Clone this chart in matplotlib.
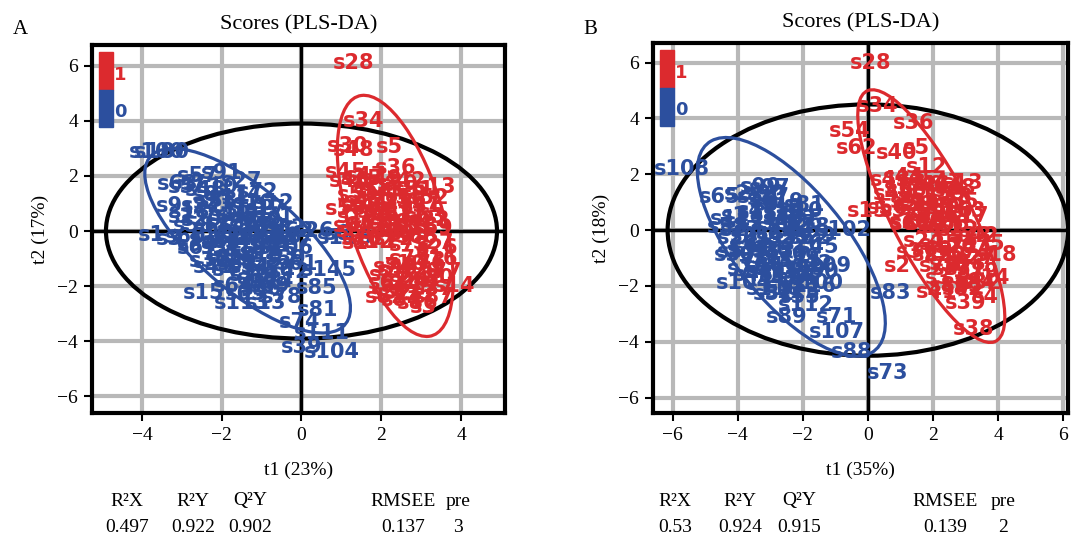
#!/usr/bin/env python3
"""
Two PLS-DA score plots (t1 vs t2) side by side, with sample labels,
group ellipses, the Hotelling T2 ellipse and the model summary underneath.
"""

import matplotlib

matplotlib.use("Agg")
import matplotlib.pyplot as plt
from matplotlib.patches import Ellipse, Rectangle


RED = "#dc2a2e"
BLUE = "#2c4f9e"
GRID = "#b8b8b8"
SERIF = ["Liberation Serif", "DejaVu Serif"]

# ---- panel A: scores, group 0 (blue) ----
A0_NAMES = ["s100", "s180", "s57", "s91", "s27", "s63", "s48", "s72", "s12", "s9",
            "s2", "s1", "s3", "s60", "s22", "s33", "s41", "s50", "s58", "s66",
            "s70", "s76", "s79", "s84", "s87", "s92", "s95", "s98", "s101", "s103",
            "s106", "s62", "s26", "s6", "s116", "s145", "s85", "s81", "s74", "s111",
            "s104", "s39", "s15", "s113", "s13", "s4", "s19", "s24", "s30", "s36",
            "s42", "s53", "s67", "s78", "s93",
            "s5", "s7", "s8", "s10", "s11", "s14", "s16", "s17", "s18", "s20",
            "s21", "s23", "s25", "s28", "s29", "s31", "s32", "s34", "s35", "s37",
            "s38", "s40", "s43", "s44", "s46", "s47", "s49", "s51", "s52", "s54",
            "s55", "s56", "s59", "s61", "s64", "s65", "s68", "s69"]
A0_T1 = [-3.62, -3.5, -2.6, -2.0, -1.5, -3.1, -2.4, -1.1, -0.7, -3.3,
         -3.0, -3.75, -3.3, -2.9, -2.5, -2.1, -1.8, -1.4, -2.7, -2.2,
         -1.6, -1.2, -0.9, -2.0, -1.5, -1.0, -0.6, -1.7, -1.2, -0.8,
         -0.4, -0.2, 0.3, 0.9, 1.1, 0.7, 0.37, 0.4, -0.05, 0.5,
         0.75, 0.0, -2.45, -1.5, -0.9, -1.9, -1.3, -0.7, -2.3, -1.0,
         -0.3, -1.6, -2.6, -0.5, -1.1,
         -3.0, -2.7, -2.4, -2.1, -1.8, -1.5, -1.2, -0.9, -2.8, -2.5,
         -2.2, -1.9, -1.6, -1.3, -1.0, -0.7, -0.4, -2.6, -2.3, -2.0,
         -1.7, -1.4, -1.1, -0.8, -0.5, -0.2, -2.2, -1.9, -1.6, -1.3,
         -1.0, -0.7, -0.4, -0.1, -1.7, -1.4, -1.1, -0.8]
A0_T2 = [2.85, 2.85, 2.0, 2.1, 1.8, 1.7, 1.5, 1.4, 1.0, 0.9,
         0.5, -0.15, -0.3, -0.2, 0.9, 1.1, 0.6, 0.8, 0.2, 0.1,
         0.3, 0.5, 0.2, -0.4, -0.2, -0.1, -0.3, -0.9, -0.7, -0.9,
         -0.6, 0.0, 0.0, -0.1, -0.25, -1.4, -2.07, -2.85, -3.3, -3.7,
         -4.4, -4.2, -2.25, -2.6, -2.6, -1.4, -1.6, -1.8, -1.1, -2.1,
         -1.5, -1.2, -0.6, -2.4, -1.9,
         1.6, 1.7, 1.3, 1.6, 1.2, 1.3, 1.0, 0.8, 0.7, 0.4,
         1.0, 0.3, 0.6, 0.2, 0.4, 0.5, 0.1, -0.5, -0.3, -0.6,
         -0.2, -0.4, -0.1, -0.5, -0.2, -0.3, -1.3, -1.0, -0.9, -1.3,
         -1.1, -1.4, -1.0, -1.2, -2.0, -2.3, -1.7, -2.0]

# ---- panel A: scores, group 1 (red) ----
A1_NAMES = ["s28", "s34", "s30", "s48", "s5", "s45", "s36", "s13", "s42", "s7",
            "s21", "s9", "s17", "s25", "s31", "s2", "s11", "s19", "s22", "s40",
            "s8", "s33", "s23", "s1", "s27", "s26", "s16", "s10", "s20", "s6",
            "s24", "s29", "s14", "s32", "s35", "s37", "s3", "s12", "s15", "s18",
            "s39", "s41", "s43", "s44",
            "s46", "s47", "s49", "s50", "s51", "s52", "s53", "s54", "s55", "s56",
            "s57", "s58", "s59", "s60", "s61", "s62", "s63", "s64", "s65", "s66",
            "s67", "s68", "s69", "s70", "s71", "s72", "s73", "s74", "s75", "s76",
            "s77", "s78", "s79", "s80", "s82", "s84", "s86", "s87"]
A1_T1 = [1.3, 1.55, 1.15, 1.3, 2.2, 1.1, 2.35, 3.35, 2.6, 1.6,
         2.0, 2.8, 1.6, 2.3, 3.0, 1.9, 2.6, 1.4, 3.2, 2.2,
         1.2, 2.0, 2.7, 1.35, 3.3, 3.4, 3.4, 2.6, 2.2, 2.0,
         2.7, 3.0, 3.85, 2.25, 2.8, 3.3, 3.05, 1.8, 1.5, 2.9,
         2.4, 1.7, 3.1, 2.5,
         1.2, 1.6, 2.0, 2.4, 2.8, 3.2, 1.4, 1.8, 2.2, 2.6,
         3.0, 1.1, 1.5, 1.9, 2.3, 2.7, 3.1, 1.3, 1.7, 2.1,
         2.5, 2.9, 3.3, 1.5, 1.9, 2.3, 2.7, 2.3, 2.7, 3.1,
         3.5, 2.5, 2.9, 3.3, 2.1, 2.5, 2.9, 3.3]
A1_T2 = [6.1, 4.0, 3.1, 2.95, 3.05, 2.15, 2.3, 1.6, 1.8, 1.6,
         1.5, 1.3, 1.1, 1.0, 0.9, 0.7, 0.6, 0.5, 0.4, 0.3,
         0.0, -0.05, -0.1, -0.45, -0.45, -0.6, -1.0, -1.2, -1.6, -1.9,
         -1.8, -1.5, -2.0, -2.25, -2.3, -2.1, -2.75, -0.4, 1.9, 0.2,
         -1.4, 0.9, -1.1, -2.0,
         1.8, 2.0, 1.9, 1.7, 1.5, 1.2, 1.3, 1.4, 1.2, 1.1,
         1.0, 0.8, 0.9, 0.7, 0.6, 0.4, 0.5, 0.2, 0.3, 0.1,
         0.0, -0.2, 0.1, -0.3, -0.4, -0.3, -0.5, -1.3, -1.0, -1.2,
         -1.5, -1.8, -2.0, -1.7, -2.4, -2.5, -2.6, -2.4]

# ---- panel B: scores, group 0 (blue) ----
B0_NAMES = ["s108", "s65", "s99", "s97", "s90", "s81", "s102", "s109", "s112", "s89",
            "s71", "s107", "s88", "s83", "s73", "s1", "s4", "s9", "s15", "s22",
            "s27", "s33", "s41", "s46", "s52", "s57", "s60", "s66", "s70", "s75",
            "s78", "s84", "s91", "s94", "s100", "s104", "s110", "s113", "s116", "s3",
            "s19", "s45", "s58", "s86", "s95",
            "s2", "s5", "s6", "s7", "s8", "s10", "s11", "s12", "s13", "s14",
            "s16", "s17", "s18", "s20", "s21", "s23", "s24", "s25", "s26", "s29",
            "s30", "s31", "s32", "s35", "s37", "s39", "s42", "s43", "s44", "s47",
            "s48", "s49", "s50", "s51", "s53", "s55"]
B0_T1 = [-5.7, -4.55, -3.3, -3.0, -3.15, -1.95, -0.75, -1.35, -1.9, -2.5,
         -0.95, -0.95, -0.5, 0.7, 0.6, -4.1, -3.6, -3.1, -2.6, -2.2,
         -3.9, -3.4, -2.8, -2.3, -1.8, -4.0, -3.5, -3.0, -2.5, -2.0,
         -3.7, -3.2, -2.7, -2.2, -1.6, -3.8, -2.9, -2.3, -1.8, -3.3,
         -2.6, -1.5, -4.3, -2.0, -2.8,
         -4.0, -3.6, -3.2, -2.8, -2.4, -2.0, -4.2, -3.8, -3.4, -3.0,
         -2.6, -2.2, -1.8, -4.0, -3.6, -3.2, -2.8, -2.4, -2.0, -1.6,
         -4.1, -3.7, -3.3, -2.9, -2.5, -2.1, -1.7, -3.5, -3.1, -2.7,
         -2.3, -1.9, -1.5, -2.9, -2.5, -2.1]
B0_T2 = [2.2, 1.2, 1.55, 1.5, 1.3, 0.9, 0.0, -1.3, -2.7, -3.1,
         -3.1, -3.65, -4.35, -2.25, -5.1, 0.5, 0.7, 0.9, 0.6, 0.4,
         0.0, 0.2, 0.1, -0.1, -0.3, -0.8, -0.6, -0.7, -0.9, -1.1,
         -1.4, -1.3, -1.5, -1.7, -1.9, -1.9, -2.1, -2.2, -2.0, 1.1,
         1.0, -0.6, 0.1, 0.3, -0.3,
         1.3, 1.2, 1.0, 1.2, 0.8, 0.7, 0.4, 0.3, 0.6, 0.5,
         0.4, 0.2, 0.1, -0.3, -0.2, -0.4, -0.1, -0.3, -0.5, -0.2,
         -0.9, -0.7, -1.0, -0.8, -1.1, -1.0, -1.2, -1.6, -1.5, -1.8,
         -1.6, -1.4, -1.5, -2.3, -2.0, -2.4]

# ---- panel B: scores, group 1 (red) ----
B1_NAMES = ["s28", "s34", "s54", "s36", "s62", "s40", "s5", "s12", "s13", "s15",
            "s18", "s14", "s39", "s4", "s38", "s2", "s1", "s3", "s6", "s7",
            "s8", "s9", "s10", "s11", "s16", "s17", "s19", "s20", "s21", "s22",
            "s23", "s24", "s25", "s26", "s27", "s29", "s30", "s31", "s32", "s33",
            "s35", "s37", "s41", "s42",
            "s43", "s44", "s45", "s46", "s47", "s48", "s49", "s50", "s51", "s52",
            "s53", "s55", "s56", "s57", "s58", "s59", "s60", "s61", "s63", "s64",
            "s66", "s67", "s68", "s69", "s70", "s72", "s74", "s75", "s76", "s77",
            "s78", "s79", "s80", "s82", "s84"]
B1_T1 = [0.1, 0.3, -0.55, 1.4, -0.35, 0.9, 1.5, 1.8, 2.9, 0.0,
         3.95, 3.75, 3.0, 3.6, 3.25, 0.9, 0.9, 1.4, 1.9, 2.4,
         2.8, 1.1, 1.6, 2.1, 2.6, 3.1, 1.3, 1.8, 2.3, 2.8,
         3.2, 1.7, 2.2, 2.7, 3.3, 2.0, 2.5, 3.0, 3.5, 2.4,
         2.9, 1.5, 2.1, 3.4,
         0.7, 1.1, 1.5, 1.9, 2.3, 2.7, 0.8, 1.2, 1.6, 2.0,
         2.4, 2.8, 0.6, 1.0, 1.4, 1.8, 2.2, 2.6, 3.0, 1.3,
         1.7, 2.1, 2.5, 2.0, 2.4, 2.8, 3.2, 3.6, 2.2, 2.6,
         3.0, 3.4, 2.5, 2.9, 3.3]
B1_T2 = [6.0, 4.45, 3.55, 3.85, 2.95, 2.75, 2.95, 2.25, 1.68, 0.7,
         -0.9, -1.7, -2.6, -2.4, -3.55, -1.3, 1.5, 1.7, 1.6, 1.4,
         1.2, 1.0, 0.9, 0.8, 0.7, 0.5, 0.3, 0.2, 0.1, 0.0,
         -0.2, -0.4, -0.5, -0.6, -1.0, -0.9, -1.2, -1.4, -1.9, -1.7,
         -2.0, -0.8, -2.2, -0.2,
         1.8, 1.9, 1.8, 1.6, 1.7, 1.5, 1.3, 1.4, 1.2, 1.1,
         1.3, 1.0, 0.8, 0.7, 0.9, 0.6, 0.8, 0.5, 0.7, 0.2,
         0.3, 0.1, 0.2, -0.7, -0.9, -0.6, -0.8, -0.5, -1.3, -1.4,
         -1.2, -1.5, -2.0, -2.1, -1.9]

# group ellipses: centre t1, centre t2, semi-axis a, semi-axis b, angle (deg)
A0_ELL = [-1.35, -0.35, 3.95, 1.5, -55]
A1_ELL = [2.35, 0.55, 4.45, 1.2, -79]
B0_ELL = [-2.35, -0.6, 4.52, 1.8, -57]
B1_ELL = [1.95, 0.5, 4.9, 1.25, -66.6]
# Hotelling T2 ellipse semi-axes (t1, t2)
A_T2 = [4.9, 3.9]
B_T2 = [6.15, 4.5]

A_XLIM = [-5.25, 5.1]
B_XLIM = [-6.6, 6.15]
A_YLIM = [-6.6, 6.75]
B_YLIM = [-6.55, 6.7]
A_XTICKS = [-4, -2, 0, 2, 4]
B_XTICKS = [-6, -4, -2, 0, 2, 4, 6]
YTICKS = [-6, -4, -2, 0, 2, 4, 6]

STAT_HEADS = ["R\u00b2X", "R\u00b2Y", "Q\u00b2Y", "RMSEE", "pre"]
A_STATS = ["0.497", "0.922", "0.902", "0.137", "3"]
B_STATS = ["0.53", "0.924", "0.915", "0.139", "2"]


def draw_panel(ax, groups, ellipses, t2_axes, xlim, ylim, xticks, xlabel, ylabel):
    ax.set_xlim(xlim)
    ax.set_ylim(ylim)
    ax.set_xticks(xticks)
    ax.set_yticks(YTICKS)
    ax.grid(True, color=GRID, lw=3, zorder=0)
    ax.set_axisbelow(True)
    ax.axhline(0, color="black", lw=2.5, zorder=1)
    ax.axvline(0, color="black", lw=2.5, zorder=1)

    ax.add_patch(Ellipse((0, 0), 2 * t2_axes[0], 2 * t2_axes[1], fill=False,
                         ec="black", lw=3, zorder=2))

    for (names, xs, ys, color) in groups:
        for name, x, y in zip(names, xs, ys):
            ax.text(x, y, name, color=color, fontsize=15, fontweight="bold",
                    family="DejaVu Sans", ha="center", va="center",
                    clip_on=True, zorder=3)
    for (cx, cy, a, b, ang), color in ellipses:
        ax.add_patch(Ellipse((cx, cy), 2 * a, 2 * b, angle=ang, fill=False,
                             ec=color, lw=2.3, zorder=4))

    # legend block: 1 on top (red), 0 below (blue)
    ax.add_patch(Rectangle((0.017, 0.878), 0.034, 0.102, transform=ax.transAxes,
                           color=RED, zorder=5, clip_on=False))
    ax.add_patch(Rectangle((0.017, 0.776), 0.034, 0.102, transform=ax.transAxes,
                           color=BLUE, zorder=5, clip_on=False))
    ax.text(0.053, 0.918, "1", transform=ax.transAxes, color=RED, fontsize=13,
            fontweight="bold", family="DejaVu Sans", ha="left", va="center", zorder=5)
    ax.text(0.053, 0.818, "0", transform=ax.transAxes, color=BLUE, fontsize=13,
            fontweight="bold", family="DejaVu Sans", ha="left", va="center", zorder=5)

    for side in ("left", "right", "top", "bottom"):
        ax.spines[side].set_linewidth(3)
        ax.spines[side].set_color("black")
        ax.spines[side].set_zorder(6)
    ax.tick_params(direction="out", length=6, width=1.5, labelsize=14, pad=4)
    for lab in ax.get_xticklabels() + ax.get_yticklabels():
        lab.set_family(SERIF)
    ax.set_xlabel(xlabel, family=SERIF, fontsize=14, labelpad=13)
    ax.set_ylabel(ylabel, family=SERIF, fontsize=14, labelpad=6)
    ax.set_title("Scores (PLS-DA)", family=SERIF, fontsize=16, pad=11)


def draw_stats(fig, xs_px, values):
    W, H = 1071.0, 540.0
    for x, head, val in zip(xs_px, STAT_HEADS, values):
        fig.text(x / W, 1 - 501 / H, head, family=SERIF, fontsize=14,
                 ha="center", va="center")
        fig.text(x / W, 1 - 528 / H, val, family=SERIF, fontsize=14,
                 ha="center", va="center")


def main():
    fig = plt.figure(figsize=(10.71, 5.4), dpi=100)
    ax_a = fig.add_axes([0.0859, 0.2352, 0.3856, 0.6815])
    ax_b = fig.add_axes([0.6097, 0.2352, 0.3875, 0.6852])

    draw_panel(ax_a,
               [(A0_NAMES, A0_T1, A0_T2, BLUE), (A1_NAMES, A1_T1, A1_T2, RED)],
               [(A0_ELL, BLUE), (A1_ELL, RED)], A_T2,
               A_XLIM, A_YLIM, A_XTICKS, "t1 (23%)", "t2 (17%)")
    draw_panel(ax_b,
               [(B0_NAMES, B0_T1, B0_T2, BLUE), (B1_NAMES, B1_T1, B1_T2, RED)],
               [(B0_ELL, BLUE), (B1_ELL, RED)], B_T2,
               B_XLIM, B_YLIM, B_XTICKS, "t1 (35%)", "t2 (18%)")

    fig.text(20 / 1071, 1 - 29 / 540, "A", family=SERIF, fontsize=15, ha="center", va="center")
    fig.text(590 / 1071, 1 - 29 / 540, "B", family=SERIF, fontsize=15, ha="center", va="center")

    draw_stats(fig, [127, 193, 250, 403, 458], A_STATS)
    draw_stats(fig, [675, 740, 799, 945, 1003], B_STATS)

    fig.savefig("out.png", dpi=100)
    plt.close(fig)


if __name__ == "__main__":
    main()
